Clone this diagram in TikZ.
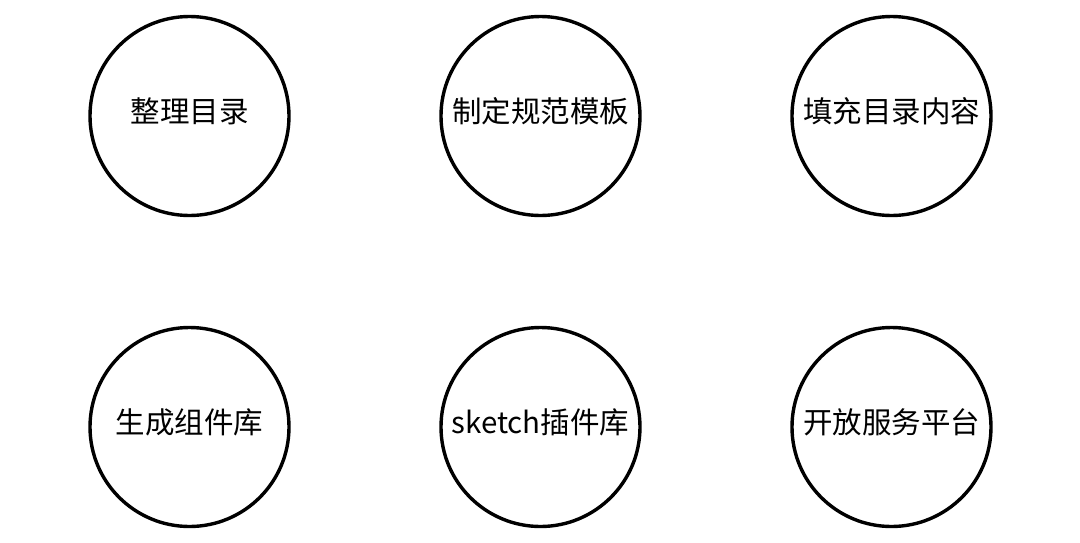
\documentclass[tikz,border=0pt]{standalone}
\usepackage{fontspec}
\newfontfamily\cjk{Noto Sans CJK SC}
\begin{document}
\begin{tikzpicture}[x=1pt,y=-1pt,
  stage/.style={circle,draw=black,line width=3.4pt,minimum size=199pt,inner sep=0pt,
    text height=13pt,text depth=0pt,
    font=\cjk\fontsize{29.5pt}{34pt}\selectfont,text=black}]
\useasboundingbox[fill=white] (0,0) rectangle (1080,542);
\node[stage] (a) at (189.5,116) {整理目录};
\node[stage] (b) at (540.5,116) {制定规范模板};
\node[stage] (c) at (891.5,116) {填充目录内容};
\node[stage] (d) at (189.5,427) {生成组件库};
\node[stage] (e) at (540.5,427) {sketch插件库};
\node[stage] (f) at (891.5,427) {开放服务平台};
\end{tikzpicture}
\end{document}
